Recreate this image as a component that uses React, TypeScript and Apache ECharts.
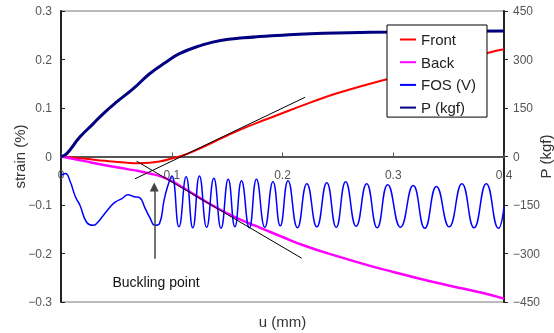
import React, { useEffect, useRef } from 'react';
import * as echarts from 'echarts';

// ---- data ----
const frontU = [0, 0.02, 0.04, 0.06, 0.07, 0.08, 0.09, 0.1, 0.107, 0.12, 0.15, 0.17, 0.195, 0.225, 0.25, 0.3, 0.35, 0.386, 0.4];
const frontV = [0, -0.004, -0.009, -0.013, -0.014, -0.013, -0.01, -0.004, 0, 0.011, 0.043, 0.063, 0.085, 0.111, 0.131, 0.163, 0.192, 0.214, 0.221];

const backU = [0, 0.02, 0.04, 0.06, 0.07, 0.08, 0.09, 0.1, 0.11, 0.12, 0.13, 0.14, 0.15, 0.16, 0.17, 0.18, 0.2, 0.22, 0.25, 0.28, 0.3, 0.324, 0.35, 0.38, 0.4];
const backV = [0, -0.009, -0.018, -0.026, -0.03, -0.035, -0.041, -0.051, -0.064, -0.078, -0.092, -0.105, -0.117, -0.128, -0.138, -0.147, -0.166, -0.184, -0.206, -0.226, -0.238, -0.252, -0.266, -0.281, -0.293];

const fosU = [0, 0.004, 0.008, 0.013, 0.017, 0.023, 0.029, 0.033, 0.038, 0.044, 0.049, 0.055, 0.0605, 0.066, 0.071, 0.076, 0.08, 0.085, 0.089, 0.093, 0.096,
  0.1, 0.1065, 0.113, 0.119, 0.125, 0.1315, 0.138, 0.1445, 0.151, 0.157, 0.163, 0.17, 0.1765, 0.184, 0.1914, 0.198, 0.205, 0.2135, 0.222, 0.231, 0.24, 0.2485, 0.257, 0.2665, 0.276, 0.2855, 0.295, 0.3065, 0.318, 0.3285, 0.339, 0.3505, 0.362, 0.373, 0.384, 0.395, 0.4];
const fosV = [-0.039, -0.035, -0.05, -0.083, -0.1, -0.135, -0.142, -0.136, -0.122, -0.105, -0.094, -0.087, -0.079, -0.083, -0.085, -0.107, -0.125, -0.142, -0.138, -0.091, -0.064,
  -0.04, -0.145, -0.042, -0.147, -0.04, -0.146, -0.045, -0.148, -0.047, -0.145, -0.05, -0.147, -0.047, -0.146, -0.052, -0.143, -0.05, -0.147, -0.056, -0.145, -0.054, -0.146, -0.052, -0.144, -0.056, -0.147, -0.058, -0.146, -0.06, -0.148, -0.062, -0.145, -0.056, -0.147, -0.056, -0.148, -0.105];

const pU = [0, 0.005, 0.017, 0.029, 0.038, 0.05, 0.065, 0.08, 0.095, 0.107, 0.126, 0.144, 0.165, 0.195, 0.225, 0.26, 0.3, 0.35, 0.4];
const pV = [0, 8, 60, 101, 132, 168, 209, 256, 292, 318, 343, 359, 367, 374, 380, 383, 385, 387, 388];

// tangent lines (u, strain)
const tangentFrontU = [0.0668, 0.2203];
const tangentFrontV = [-0.046, 0.122];
const tangentBackU = [0.0683, 0.2173];
const tangentBackV = [-0.0097, -0.2097];

// buckling arrow
const bucklingU = 0.0842;
const bucklingFrom = -0.211;
const bucklingTo = -0.063;

const zip = (a: number[], b: number[]) => a.map((x, i) => [x, b[i]]);
const FONT = 'Liberation Sans, Arial, sans-serif';
const minus = (s: string) => s.replace('-', '\u2212');

export default function App() {
  const ref = useRef<HTMLDivElement>(null);
  useEffect(() => {
    const chart = echarts.init(ref.current!, null, { renderer: 'svg' });
    chart.setOption({
      animation: false,
      textStyle: { fontFamily: FONT },
      grid: { left: 61, right: 50, top: 11, bottom: 31, show: true, borderColor: '#777', borderWidth: 1, containLabel: false, outerBoundsMode: 'none' },
      legend: {
        data: [
          { name: 'Front', icon: 'rect' },
          { name: 'Back', icon: 'rect' },
          { name: 'FOS (V)', icon: 'rect' },
          { name: 'P (kgf)', icon: 'rect' },
        ],
        orient: 'vertical',
        left: 387,
        top: 25,
        padding: [7, 11, 2, 13],
        itemGap: 7.7,
        itemWidth: 16,
        itemHeight: 2,
        backgroundColor: '#fff',
        borderColor: '#000',
        borderWidth: 1,
        textStyle: { fontSize: 15, color: '#222', fontFamily: FONT },
      },
      xAxis: {
        type: 'value',
        min: 0,
        max: 0.4,
        interval: 0.1,
        name: 'u (mm)',
        nameLocation: 'middle',
        nameGap: 12,
        nameMoveOverlap: false,
        nameTextStyle: { fontSize: 15, color: '#333', fontFamily: FONT },
        axisLine: { onZero: true, lineStyle: { color: '#555', width: 2 } },
        axisTick: { inside: true, length: 4, lineStyle: { color: '#555' } },
        axisLabel: { margin: -133, fontSize: 12, color: '#555', formatter: (v: number) => (Math.abs(v) < 1e-9 ? '0' : v.toFixed(1)) },
        splitLine: { show: false },
      },
      yAxis: [
        {
          type: 'value',
          min: -0.3,
          max: 0.3,
          interval: 0.1,
          name: 'strain (%)',
          nameLocation: 'middle',
          nameGap: 34,
          nameMoveOverlap: false,
          nameTextStyle: { fontSize: 15, color: '#333', fontFamily: FONT },
          axisLine: { show: true, onZero: false, lineStyle: { color: '#222', width: 2 } },
          axisTick: { show: true, inside: true, length: 4, lineStyle: { color: '#222' } },
          axisLabel: { margin: 9, fontSize: 12, color: '#555', formatter: (v: number) => (Math.abs(v) < 1e-9 ? '0' : minus(v.toFixed(1))) },
          splitLine: { show: false },
        },
        {
          type: 'value',
          min: -450,
          max: 450,
          interval: 150,
          position: 'right',
          name: 'P (kgf)',
          nameLocation: 'middle',
          nameGap: 34,
          nameMoveOverlap: false,
          nameTextStyle: { fontSize: 15, color: '#333', fontFamily: FONT },
          axisLine: { show: true, onZero: false, lineStyle: { color: '#222', width: 2 } },
          axisTick: { show: true, inside: false, length: 4, lineStyle: { color: '#222' } },
          axisLabel: { margin: 9, fontSize: 12, color: '#555', formatter: (v: number) => minus(String(v)) },
          splitLine: { show: false },
        },
      ],
      series: [
        {
          name: 'Front', type: 'line', symbol: 'none', smooth: true, data: zip(frontU, frontV),
          lineStyle: { color: '#ff0000', width: 2 }, itemStyle: { color: '#ff0000' },
        },
        {
          name: 'Back', type: 'line', symbol: 'none', smooth: true, data: zip(backU, backV),
          lineStyle: { color: '#ff00ff', width: 2.5 }, itemStyle: { color: '#ff00ff' },
        },
        {
          name: 'FOS (V)', type: 'line', symbol: 'none', smooth: 0.5, data: zip(fosU, fosV),
          lineStyle: { color: '#0000ff', width: 1.5 }, itemStyle: { color: '#0000ff' },
        },
        {
          name: 'P (kgf)', type: 'line', yAxisIndex: 1, symbol: 'none', smooth: true, data: zip(pU, pV),
          lineStyle: { color: '#000080', width: 3 }, itemStyle: { color: '#000080' },
        },
        {
          name: 'tangentFront', type: 'line', symbol: 'none', data: zip(tangentFrontU, tangentFrontV),
          lineStyle: { color: '#000', width: 1 }, z: 3,
        },
        {
          name: 'tangentBack', type: 'line', symbol: 'none', data: zip(tangentBackU, tangentBackV),
          lineStyle: { color: '#000', width: 1 }, z: 3,
          markLine: {
            silent: true,
            symbol: ['none', 'triangle'],
            symbolSize: [9, 9],
            label: { show: false },
            lineStyle: { color: '#444', width: 1.5, type: 'solid' },
            itemStyle: { color: '#000' },
            data: [[{ coord: [bucklingU, bucklingFrom] }, { coord: [bucklingU, bucklingTo] }]],
          },
        },
      ],
      graphic: [
        {
          type: 'text',
          x: 156,
          y: 282,
          style: { text: 'Buckling point', fontSize: 14, fill: '#111', fontFamily: FONT, textAlign: 'center', textVerticalAlign: 'middle' },
        },
      ],
    });
    return () => chart.dispose();
  }, []);
  return <div ref={ref} style={{ position: 'fixed', left: 0, top: 0, width: 554, height: 333 }} />;
}
